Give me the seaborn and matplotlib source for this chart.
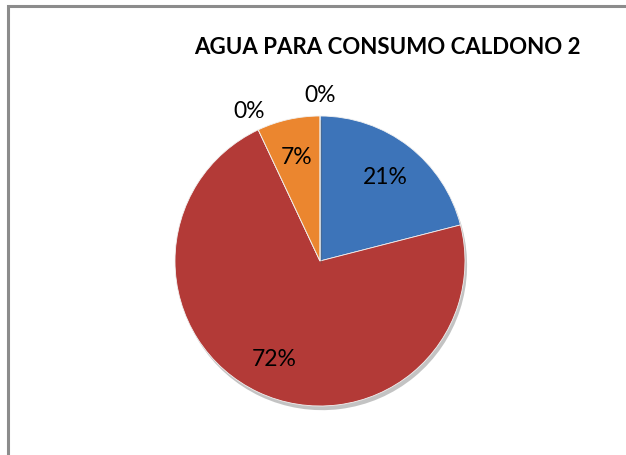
import numpy as np
import matplotlib.pyplot as plt
import matplotlib.patheffects as pe
from matplotlib.patches import Rectangle
import seaborn as sns

# slices, clockwise from 12 o'clock
categories = ['Serie 1', 'Serie 2', 'Serie 3', 'Serie 4', 'Serie 5']
values = [21, 72, 0, 7, 0]
pct_labels = ['21%', '72%', '0%', '7%', '0%']
colors = ['#3D74B9', '#B33A37', '#8FB24F', '#EB862F', '#7A5F9A']

sns.set_theme(style='white')
plt.rcParams['font.family'] = ['Lato', 'DejaVu Sans']

fig = plt.figure(figsize=(6.26, 4.56), dpi=100)
fig.patches.append(Rectangle((8 / 626, -0.1), 1.2, (456 - 7) / 456 + 0.1,
                             transform=fig.transFigure, fill=False,
                             edgecolor='#8c8c8c', linewidth=2.2))

cx, cy, r = 320, 262, 145
ax = fig.add_axes([(cx - r) / 626, (456 - cy - r) / 456, 2 * r / 626, 2 * r / 456])

wedges, _ = ax.pie(values, colors=colors, startangle=90, counterclock=False,
                   wedgeprops=dict(edgecolor='#f2f2f2', linewidth=0.6))
for w in wedges:
    w.set_path_effects([pe.SimplePatchShadow(offset=(1.5, -3), shadow_rgbFace='#555555', alpha=0.35),
                        pe.Normal()])

for w, v, lab in zip(wedges, values, pct_labels):
    mid = np.deg2rad((w.theta1 + w.theta2) / 2)
    d = 0.74 if v > 0 else 1.15
    ax.text(d * np.cos(mid), d * np.sin(mid), lab, ha='center', va='center',
            fontsize=16.5, color='black')

ax.set_xlim(-1, 1)
ax.set_ylim(-1, 1)
ax.set_aspect('equal')
ax.axis('off')

fig.text(387 / 626, 1 - 48 / 456, 'AGUA PARA CONSUMO CALDONO 2', ha='center', va='center',
         fontsize=16, fontweight='bold', color='black')

fig.savefig('out.png', dpi=100)
